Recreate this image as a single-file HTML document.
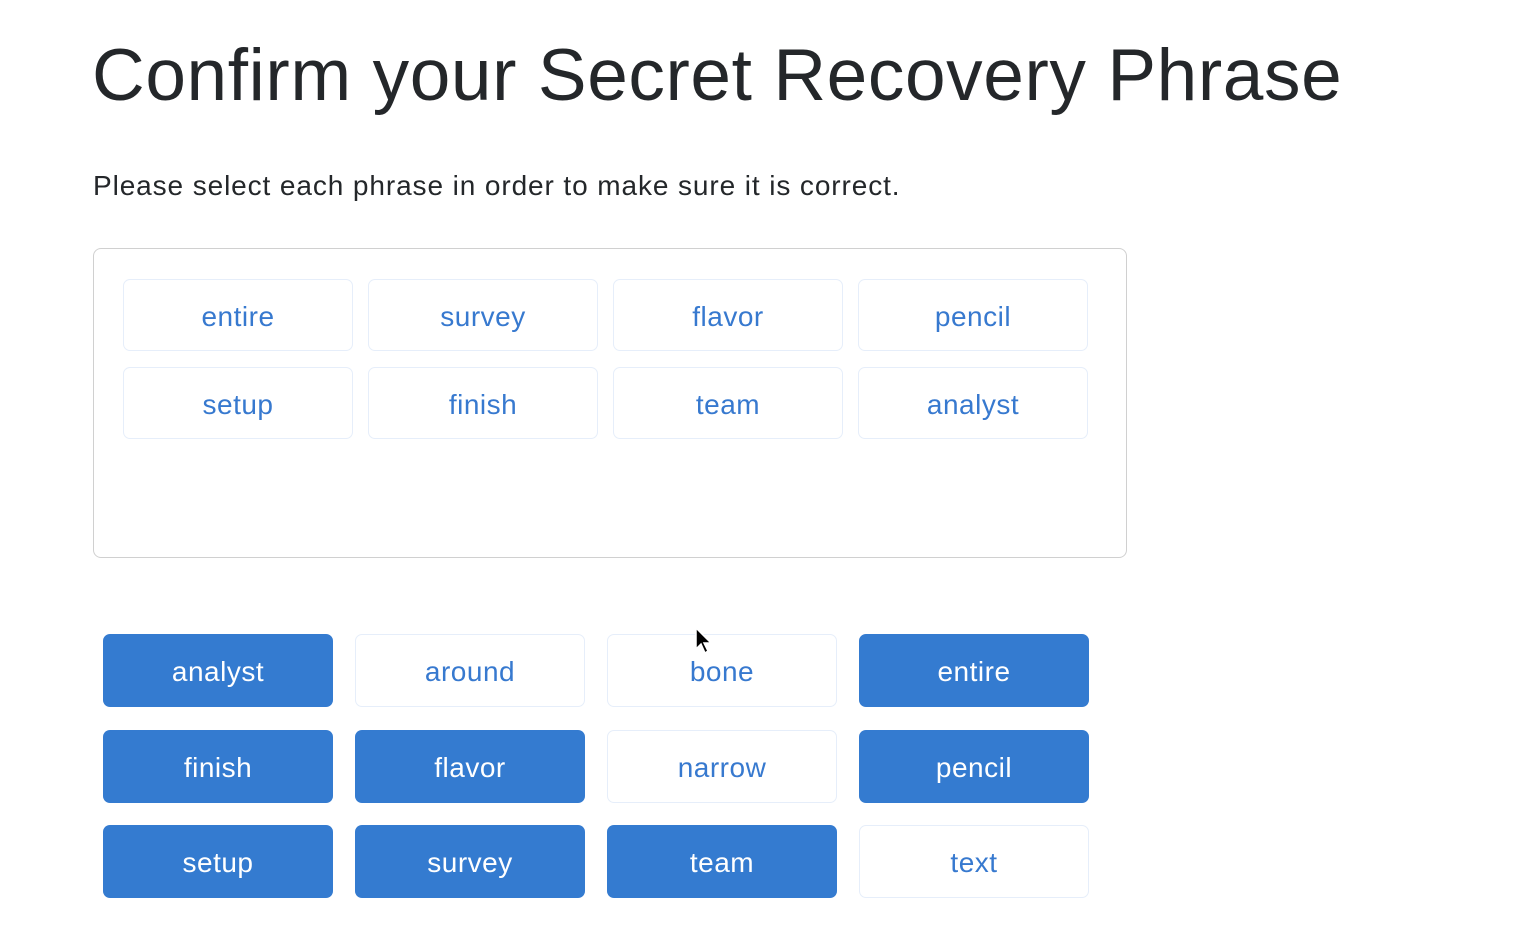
<!DOCTYPE html>
<html><head><style>
body{margin:0;width:1518px;height:948px;background:#fff;font-family:"Liberation Sans",sans-serif;position:relative;overflow:hidden}
.t{position:absolute;left:92px;top:34px;font-size:73px;color:#24272a;white-space:nowrap;letter-spacing:0.6px}
.s{position:absolute;left:93px;top:170px;font-size:28px;color:#24272a;white-space:nowrap;letter-spacing:0.9px}
.box{position:absolute;left:93px;top:248px;width:1032px;height:308px;border:1.5px solid #d0d0d0;border-radius:8px}
.w{position:absolute;box-sizing:border-box;border:1.5px solid #e6eefa;border-radius:7px;color:#3779cf;font-size:28px;display:flex;align-items:center;justify-content:center;background:#fff;padding-top:3px;letter-spacing:0.5px}
.f{background:#347bd0;color:#fff;border:none}
</style></head><body>
<div class="t">Confirm your Secret Recovery Phrase</div>
<div class="s">Please select each phrase in order to make sure it is correct.</div>
<div class="box"></div>
<div class="w" style="left:123px;top:279px;width:230px;height:72px">entire</div>
<div class="w" style="left:368px;top:279px;width:230px;height:72px">survey</div>
<div class="w" style="left:613px;top:279px;width:230px;height:72px">flavor</div>
<div class="w" style="left:858px;top:279px;width:230px;height:72px">pencil</div>
<div class="w" style="left:123px;top:367px;width:230px;height:72px">setup</div>
<div class="w" style="left:368px;top:367px;width:230px;height:72px">finish</div>
<div class="w" style="left:613px;top:367px;width:230px;height:72px">team</div>
<div class="w" style="left:858px;top:367px;width:230px;height:72px">analyst</div>

<div class="w f" style="left:103px;top:634px;width:230px;height:73px">analyst</div>
<div class="w" style="left:355px;top:634px;width:230px;height:73px">around</div>
<div class="w" style="left:607px;top:634px;width:230px;height:73px">bone</div>
<div class="w f" style="left:859px;top:634px;width:230px;height:73px">entire</div>
<div class="w f" style="left:103px;top:730px;width:230px;height:73px">finish</div>
<div class="w f" style="left:355px;top:730px;width:230px;height:73px">flavor</div>
<div class="w" style="left:607px;top:730px;width:230px;height:73px">narrow</div>
<div class="w f" style="left:859px;top:730px;width:230px;height:73px">pencil</div>
<div class="w f" style="left:103px;top:825px;width:230px;height:73px">setup</div>
<div class="w f" style="left:355px;top:825px;width:230px;height:73px">survey</div>
<div class="w f" style="left:607px;top:825px;width:230px;height:73px">team</div>
<div class="w" style="left:859px;top:825px;width:230px;height:73px">text</div>
<svg style="position:absolute;left:694px;top:627px" width="20" height="30"><path d="M2 1 L2 22 L7 17 L11 26 L14 24 L10 16 L17 16 Z" fill="#000" stroke="#fff" stroke-width="1.5"/></svg>
</body></html>
